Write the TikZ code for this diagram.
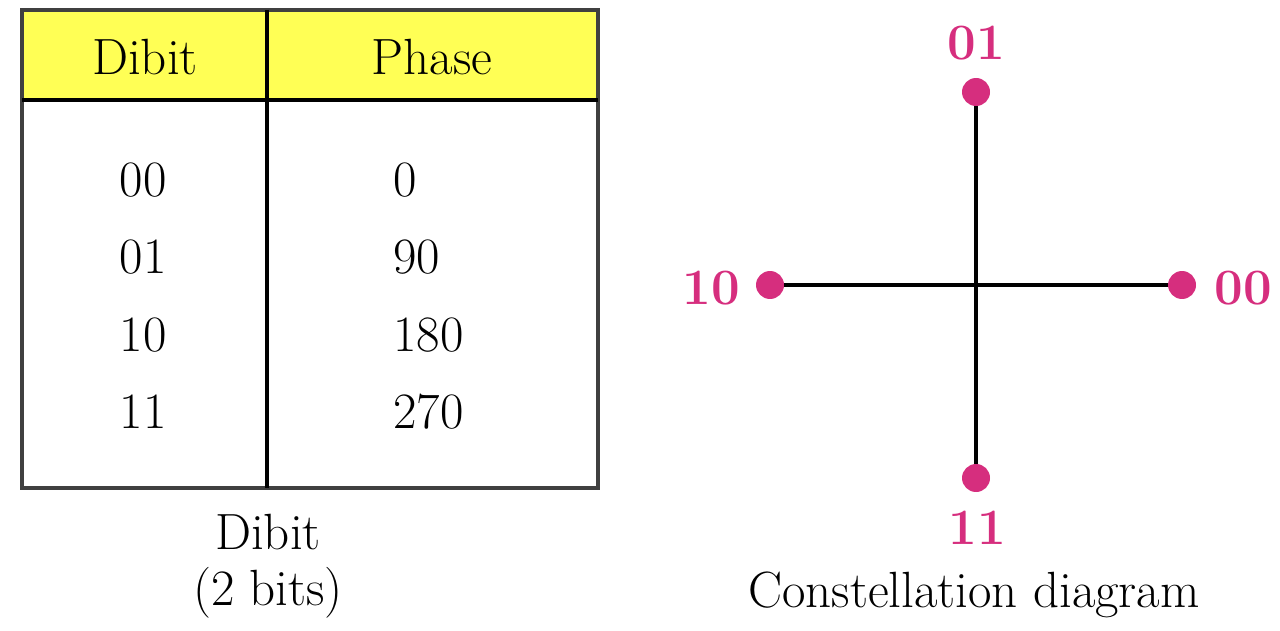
\documentclass[tikz,border=0pt]{standalone}
\usepackage{xcolor}
\usepackage{tikz}
\usetikzlibrary{calc,shapes,positioning}
\definecolor{hdryellow}{RGB}{255,255,85}
\definecolor{ptpink}{RGB}{214,46,126}
\tikzset{
  txt/.style={inner sep=0pt, font=\fontsize{29}{33}\selectfont},
  ptlab/.style={inner sep=0pt, text=ptpink, font=\fontsize{29}{33}\selectfont\bfseries},
  pt/.style={circle, fill=ptpink, inner sep=0pt, minimum size=0.56cm},
  axis/.style={line width=2pt}
}

\begin{document}
\begin{tikzpicture}[x=0.02cm, y=-0.02cm]
\useasboundingbox (0,0) rectangle (1280,631);
% table
\fill[hdryellow] (22,10) rectangle (598,100);
\draw[line width=2pt, black!75] (22,10) rectangle (598,488);
\draw[line width=2pt] (22,100) -- (598,100);
\draw[line width=2pt] (267,10) -- (267,488);
\node[txt] (hdibit) at (145,57) {Dibit};
\node[txt] (hphase) at (432,57) {Phase};
\node[txt] (d00) at (143,180) {00};
\node[txt] (d01) at (143,257) {01};
\node[txt] (d10) at (143,335) {10};
\node[txt] (d11) at (143,412) {11};
\node[txt, anchor=west] (ph0) at (393,180) {0};
\node[txt, anchor=west] (ph90) at (393,257) {90};
\node[txt, anchor=west] (ph180) at (393,335) {180};
\node[txt, anchor=west] (ph270) at (393,412) {270};
\node[txt] (capa) at (268,532) {Dibit};
\node[txt] (capb) at (268,593) {(2 bits)};
% constellation
\coordinate (origin) at (976,285);
\node[pt] (p01) at (976,92) {};
\node[pt] (p11) at (976,478) {};
\node[pt] (p10) at (770,285) {};
\node[pt] (p00) at (1182,285) {};
\draw[axis] (p10) -- (p00);
\draw[axis] (p01) -- (p11);
\node[ptlab] (l01) at (976,43) {01};
\node[ptlab] (l11) at (977,528) {11};
\node[ptlab] (l10) at (711,288) {10};
\node[ptlab] (l00) at (1243,288) {00};
\node[txt] (capc) at (974,595) {Constellation diagram};
\end{tikzpicture}
\end{document}
